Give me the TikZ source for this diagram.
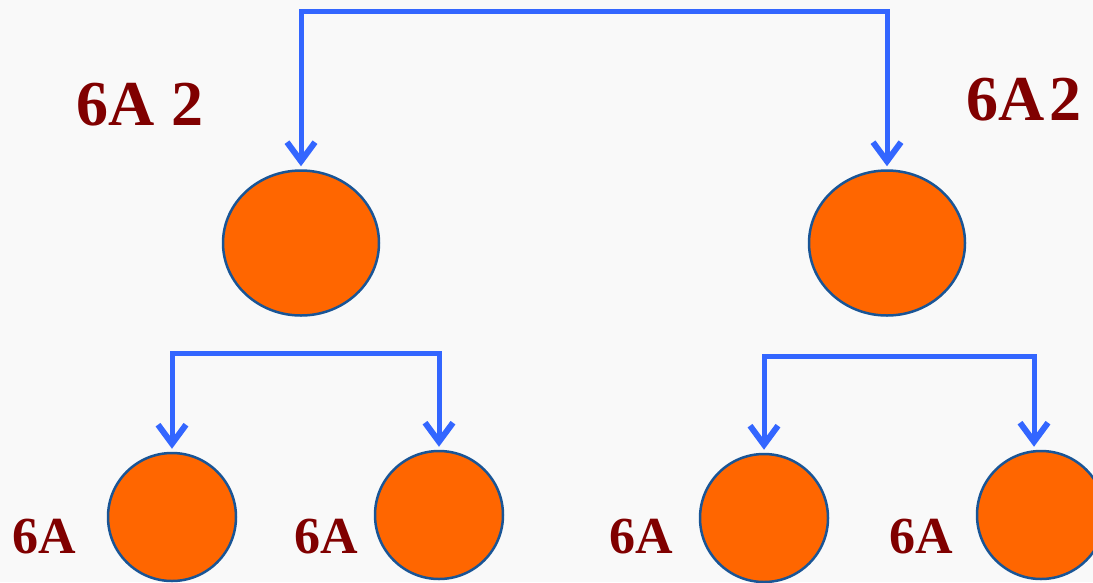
\documentclass[tikz,border=0pt]{standalone}
\usepackage{fontspec}
\setmainfont{Liberation Serif}
\usetikzlibrary{shapes.geometric,arrows.meta}

\definecolor{linkblue}{RGB}{51,102,255}
\definecolor{ballorange}{RGB}{255,102,0}
\definecolor{rimblue}{RGB}{25,85,150}
\definecolor{labelred}{RGB}{128,0,0}

\tikzset{
  ball/.style={ellipse, draw=rimblue, line width=2.5pt, fill=ballorange, inner sep=0pt},
  bigball/.style={ball, minimum width=156pt, minimum height=145pt},
  smallball/.style={ball, minimum width=128pt, minimum height=128pt},
  link/.style={draw=linkblue, line width=5pt,
    -{Straight Barb[length=19pt,width=28pt,line width=6pt]}, shorten >=3pt},
  biglabel/.style={text=labelred, font=\fontsize{64}{70}\selectfont\bfseries},
  smalllabel/.style={text=labelred, font=\fontsize{52}{56}\selectfont\bfseries},
}

\begin{document}
\begin{tikzpicture}[x=1pt,y=-1pt]
        \fill[white!97.5!black] (0,0) rectangle (1093,582);
        \clip (0,0) rectangle (1093,582);

        % upper level
        \node[bigball] (left) at (301,243) {};
        \node[bigball] (right) at (887,243) {};
        \node[biglabel] (leftlab) at (140,105) {6A 2};
        \node[biglabel] (rightlab) at (1024,100) {6A\kern4pt2};

        % lower level
        \node[smallball] (ball1) at (172,517) {};
        \node[smallball] (ball2) at (439,515) {};
        \node[smallball] (ball3) at (764,518) {};
        \node[smallball] (ball4) at (1041,515) {};
        \node[smalllabel] (lab1) at (44,537) {6A};
        \node[smalllabel] (lab2) at (326,537) {6A};
        \node[smalllabel] (lab3) at (641,537) {6A};
        \node[smalllabel] (lab4) at (921,537) {6A};

        % brackets
        \coordinate (topsplit) at (594,11);
        \coordinate (leftsplit) at (305,353);
        \coordinate (rightsplit) at (900,356);

        \draw[link] (topsplit) -| (left.north);
        \draw[link] (topsplit) -| (right.north);
        \draw[link] (leftsplit) -| (ball1.north);
        \draw[link] (leftsplit) -| (ball2.north);
        \draw[link] (rightsplit) -| (ball3.north);
        \draw[link] (rightsplit) -| ([xshift=-7pt]ball4.north);
    \end{tikzpicture}
\end{document}
